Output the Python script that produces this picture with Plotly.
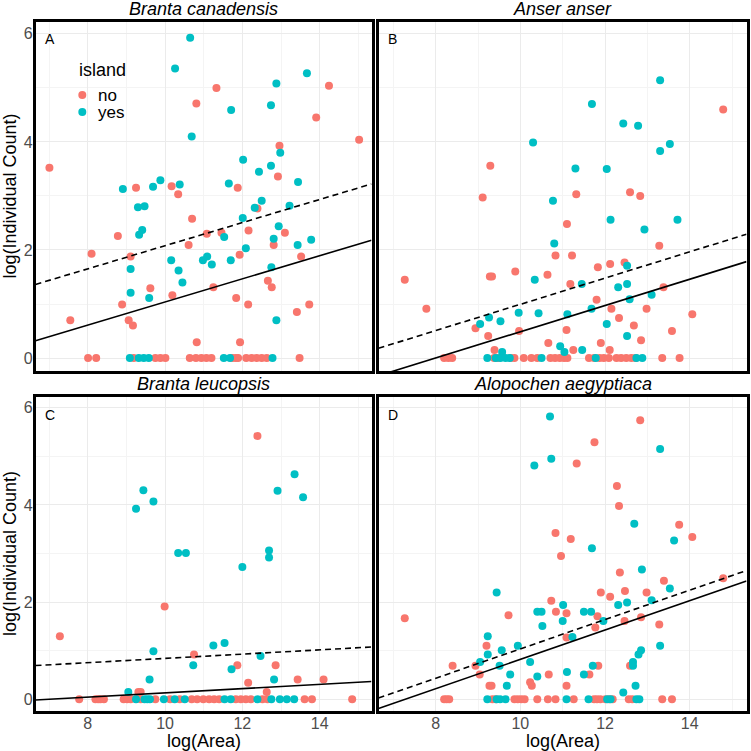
import plotly.graph_objects as go

# ---------------- data ----------------
panels = ["A", "B", "C", "D"]
species = ["Branta canadensis", "Anser anser", "Branta leucopsis", "Alopochen aegyptiaca"]
island_levels = ["no", "yes"]
colors = {"no": "#F8766D", "yes": "#00BFC4"}

A_no_x = [7.01, 7.55, 8.10, 8.01, 8.22, 8.78, 8.89, 9.06, 9.17, 9.11, 9.25, 9.62, 9.19, 9.75, 9.88, 10.01,
          10.17, 10.34, 10.19, 10.61, 10.70, 10.81, 10.82, 11.33, 11.08, 11.25, 11.46, 10.64, 10.80, 10.94,
          11.07, 11.20, 11.88, 11.93, 11.84, 11.94, 12.15, 12.16, 12.39, 11.74, 11.83, 11.89, 12.10, 12.24,
          12.37, 12.50, 12.63, 12.66, 12.76, 12.81, 12.92, 12.96, 13.10, 13.52, 13.41, 13.73, 13.48, 13.91,
          14.24, 15.02]
A_no_y = [3.52, 0.70, 1.93, 0, 0, 2.26, 0.99, 0.70, 0.60, 1.88, 3.15, 1.29, 0, 0, 0, 0,
          3.18, 3.03, 1.16, 2.09, 2.58, 4.71, 0.29, 5.00, 2.30, 1.31, 2.32, 0, 0, 0,
          0, 0, 3.15, 1.91, 1.11, 0.29, 0.99, 2.36, 2.77, 0, 0, 0, 0, 0,
          0, 0, 0, 1.43, 1.31, 2.09, 3.36, 3.93, 2.32, 1.88, 0.85, 0.99, 0, 4.45,
          5.04, 4.04]
A_yes_x = [10.65, 10.26, 10.69, 11.71, 12.74, 12.88, 13.67, 12.98, 12.02, 12.74, 12.43, 11.65, 13.44,
           8.91, 9.30, 9.47, 9.69, 9.88, 10.38, 9.41, 9.33, 9.11, 9.11, 9.59, 10.16, 10.35, 10.45,
           10.98, 11.09, 11.21, 11.53, 11.70, 12.01, 12.09, 12.32, 12.50, 12.81, 12.94, 13.22, 13.43,
           13.78, 12.75, 12.88, 9.09, 9.32, 9.45, 9.58, 11.52, 11.68, 12.78]
A_yes_y = [5.93, 5.36, 4.10, 4.59, 4.68, 5.08, 5.27, 3.80, 3.67, 3.56, 3.45, 3.23, 3.26,
           3.13, 2.79, 2.81, 3.17, 3.29, 3.21, 2.37, 2.28, 1.65, 1.21, 1.11, 1.81, 1.62, 1.40,
           1.81, 1.88, 1.73, 2.24, 1.81, 2.59, 2.03, 2.78, 2.91, 2.21, 2.44, 2.82, 2.09,
           2.19, 1.68, 0.70, 0, 0, 0, 0, 0, 0, 0]

B_no_x = [7.27, 7.78, 8.20, 8.30, 8.39, 9.11, 9.29, 9.28, 9.33, 8.94, 9.24, 9.39, 9.88, 9.97, 10.64,
          10.83, 10.66, 11.10, 11.32, 11.22, 11.18, 11.09, 11.25, 11.83, 12.12, 12.46, 12.59, 12.83,
          13.28, 13.38, 11.80, 12.15, 12.33, 12.68, 12.98, 11.90, 12.11, 12.85, 13.58, 14.06, 14.79,
          9.38, 9.47, 9.77, 9.86, 10.08, 10.26, 10.40, 10.71, 10.82, 10.93, 11.03, 11.11, 11.62, 11.74,
          11.87, 11.97, 12.09, 12.27, 12.38, 12.50, 12.62, 12.72, 13.35, 13.76]
B_no_y = [1.45, 0.91, 0, 0, 0, 2.97, 3.56, 1.51, 1.51, 0.55, 0.41, 0.15, 1.60, 0.50, 1.54,
          1.90, 0.28, 2.48, 3.03, 1.90, 1.37, 0.52, 0.15, 1.68, 1.74, 1.77, 3.07, 3.00,
          2.08, 1.31, 1.08, 0.91, 0.74, 0.60, 0.91, 0.28, 0.15, 0.33, 0.50, 0.81, 4.60,
          0, 0, 0, 0, 0, 0, 0, 0, 0, 0, 0, 0, 0, 0,
          0, 0, 0, 0, 0, 0, 0, 0, 0, 0]
B_yes_x = [13.30, 11.69, 12.43, 12.78, 10.30, 13.30, 13.53, 11.30, 12.04, 10.77, 12.13, 13.71, 12.93,
           10.80, 12.52, 10.34, 11.45, 12.31, 12.52, 12.58, 13.10, 11.68, 11.11, 10.43, 9.96, 9.26,
           9.05, 9.53, 12.04, 12.52, 10.94, 11.04, 11.46, 9.57, 9.22, 9.42, 9.53, 9.65, 9.75, 10.50,
           11.78, 12.74, 12.88]
B_yes_y = [5.14, 4.70, 4.34, 4.30, 3.99, 3.83, 3.96, 3.51, 3.50, 2.91, 2.56, 2.56, 2.38,
           2.12, 1.71, 1.45, 1.37, 1.31, 1.37, 1.09, 1.17, 0.91, 0.81, 0.83, 0.84, 0.75,
           0.63, 0.68, 0.63, 0.41, 0.22, 0.11, 0.15, 0.11, 0, 0, 0, 0, 0, 0,
           0, 0, 0]

C_no_x = [7.28, 9.99, 10.75, 12.39, 11.87, 12.86, 12.15, 12.63, 13.43, 14.10, 9.31, 9.37,
          7.78, 8.20, 8.27, 8.33, 8.42, 8.93, 9.02, 9.11, 9.37, 9.75, 10.13, 10.38, 10.69, 10.83,
          10.99, 11.14, 11.27, 11.40, 11.83, 11.96, 12.09, 12.22, 12.52, 12.65, 13.61, 13.80, 14.84]
C_no_y = [1.30, 1.91, 0.92, 5.42, 0.70, 0.70, 0.34, 0.15, 0.41, 0.41, 0.15, 0.15,
          0, 0, 0, 0, 0, 0, 0, 0, 0, 0, 0, 0, 0, 0,
          0, 0, 0, 0, 0, 0, 0, 0, 0, 0, 0, 0, 0]
C_yes_x = [9.44, 9.25, 9.70, 13.35, 12.91, 13.57, 10.34, 10.54, 12.69, 12.69, 12.00, 9.70, 11.25,
           11.54, 12.47, 10.73, 11.72, 9.60, 12.82, 9.05,
           9.25, 9.47, 9.54, 9.61, 9.97, 10.25, 10.51, 11.54, 11.70, 12.39, 12.75, 12.97, 13.15, 13.34]
C_yes_y = [4.30, 3.92, 4.07, 4.63, 4.29, 4.16, 3.01, 3.01, 3.06, 2.92, 2.72, 0.99, 1.11,
           1.16, 0.89, 0.70, 0.62, 0.41, 0.41, 0.15,
           0, 0, 0, 0, 0, 0, 0, 0, 0, 0, 0, 0, 0, 0]

D_no_x = [7.27, 8.40, 8.94, 9.04, 9.20, 9.27, 9.32, 9.72, 10.23, 10.27, 10.67, 10.73, 10.83, 10.84,
          10.96, 11.09, 11.09, 11.09, 11.19, 11.33, 11.63, 11.75, 11.77, 11.82, 11.84, 11.90, 12.12,
          12.28, 12.33, 12.35, 12.46, 12.47, 12.59, 12.83, 12.85, 12.98, 13.28, 13.39, 13.75, 14.06,
          14.79,
          8.20, 8.26, 8.32, 9.34, 9.42, 9.86, 9.94, 10.02, 10.10, 10.40, 10.65, 10.83, 11.26, 11.74,
          11.81, 11.89, 12.01, 12.10, 12.18, 12.56, 12.64, 13.35, 13.58]
D_no_y = [1.67, 0.69, 0.69, 0.51, 1.10, 0.28, 0.28, 1.73, 0.35, 0.28, 0.51, 2.03, 3.42, 1.80,
          2.95, 1.77, 1.27, 0.28, 3.30, 4.85, 0.51, 5.29, 1.48, 1.71, 0.69, 2.20, 2.11,
          4.39, 3.98, 2.61, 1.61, 2.23, 0.69, 5.74, 1.69, 2.20, 1.54, 2.44, 3.59, 3.34,
          2.49,
          0, 0, 0, 0, 0, 0, 0, 0, 0, 0, 0, 0, 0, 0,
          0, 0, 0, 0, 0, 0, 0, 0, 0]
D_yes_x = [10.70, 10.73, 10.33, 13.30, 12.69, 13.63, 11.69, 12.87, 13.53, 13.10, 9.44, 11.01, 12.31,
           12.52, 10.40, 10.50, 11.50, 11.67, 10.52, 11.00, 11.96, 11.23, 9.23, 9.23, 9.05, 9.56,
           9.94, 10.23, 9.51, 9.76, 10.40, 9.68, 11.10, 11.50, 11.71, 13.30, 12.85, 12.79, 12.66,
           12.66, 12.72, 12.43,
           9.22, 9.44, 9.52, 9.65, 11.09, 11.61, 12.05, 12.13, 12.74, 12.81]
D_yes_y = [5.82, 4.95, 4.81, 5.15, 3.61, 3.27, 3.11, 2.67, 2.28, 2.04, 2.20, 1.94, 1.94,
           1.99, 1.80, 1.80, 1.80, 1.80, 1.51, 1.61, 1.61, 1.28, 1.30, 0.92, 0.77, 1.01,
           1.10, 0.77, 0.69, 0.51, 0.47, 0.28, 0.56, 0.51, 0.69, 1.10, 1.01, 0.92, 0.77,
           0.69, 0.28, 0.14,
           0, 0, 0, 0, 0, 0, 0, 0, 0, 0]

# fitted lines (slope shared within a panel; solid and dashed intercepts)
fit_slope = [0.214, 0.243, 0.044, 0.302]
fit_int_solid = [-1.102, -1.943, -0.307, -2.199]
fit_int_dashed = [-0.061, -1.436, 0.402, -1.982]

x_ticks = [8, 10, 12, 14]
y_ticks = [0, 2, 4, 6]
x_range = [6.65, 15.34]
y_range = [-0.24, 6.22]

points = {
    "A": {"no": (A_no_x, A_no_y), "yes": (A_yes_x, A_yes_y)},
    "B": {"no": (B_no_x, B_no_y), "yes": (B_yes_x, B_yes_y)},
    "C": {"no": (C_no_x, C_no_y), "yes": (C_yes_x, C_yes_y)},
    "D": {"no": (D_no_x, D_no_y), "yes": (D_yes_x, D_yes_y)},
}

# ---------------- layout geometry (pixels) ----------------
W = H = 751
FONT = "Liberation Sans, Arial, sans-serif"
px = lambda p: p / W
py = lambda p: 1 - p / H

col_x = [(35.5, 371.5), (378.5, 746.5)]
row_y = [(22, 371), (397, 711)]

fig = go.Figure()
layout_axes = {}
annotations = []

for i, pan in enumerate(panels):
    r, c = divmod(i, 2)
    sfx = "" if i == 0 else str(i + 1)
    xa, ya = "x" + sfx, "y" + sfx
    x0, x1 = col_x[c]
    y0, y1 = row_y[r]
    common = dict(showline=True, linecolor="black", linewidth=2.5, mirror=True,
                  zeroline=False, ticks="", showgrid=True, gridcolor="#EBEBEB", gridwidth=1,
                  tickfont=dict(family=FONT, size=16, color="#4D4D4D"))
    layout_axes["xaxis" + sfx] = dict(common, domain=[px(x0), px(x1)], range=x_range,
                                      tickvals=x_ticks, showticklabels=(r == 1), anchor=ya,
                                      ticklabelstandoff=-4,
                                      minor=dict(tickvals=[7, 9, 11, 13, 15], showgrid=True,
                                                 gridcolor="#F4F4F4", gridwidth=0.6))
    layout_axes["yaxis" + sfx] = dict(common, domain=[py(y1), py(y0)], range=y_range,
                                      tickvals=y_ticks, showticklabels=(c == 0), anchor=xa,
                                      ticklabelstandoff=-3,
                                      minor=dict(tickvals=[1, 3, 5], showgrid=True,
                                                 gridcolor="#F4F4F4", gridwidth=0.6))
    for lvl in island_levels:
        xs, ys = points[pan][lvl]
        fig.add_trace(go.Scatter(x=xs, y=ys, mode="markers", xaxis=xa, yaxis=ya,
                                 marker=dict(color=colors[lvl], size=8, line=dict(width=0)),
                                 name=lvl, showlegend=False))
    lx = x_range
    for ints, dash in ((fit_int_solid, "solid"), (fit_int_dashed, "6px,4px")):
        fig.add_trace(go.Scatter(x=lx, y=[ints[i] + fit_slope[i] * v for v in lx], mode="lines",
                                 xaxis=xa, yaxis=ya, line=dict(color="black", width=1.6, dash=dash),
                                 showlegend=False, hoverinfo="skip"))
    # species title
    annotations.append(dict(text="<i>%s</i>" % species[i], x=px((x0 + x1) / 2), y=py(y0 - 13),
                            xref="paper", yref="paper", showarrow=False, xanchor="center",
                            yanchor="middle", font=dict(family=FONT, size=18, color="black")))
    # panel letter
    annotations.append(dict(text=pan, x=px(x0 + 14), y=py(y0 + 17.5), xref="paper", yref="paper",
                            showarrow=False, xanchor="center", yanchor="middle",
                            font=dict(family=FONT, size=14, color="black")))
    if c == 0:
        annotations.append(dict(text="log(Individual Count)", x=px(10), y=py((y0 + y1) / 2),
                                xref="paper", yref="paper", showarrow=False, textangle=-90,
                                xanchor="center", yanchor="middle",
                                font=dict(family=FONT, size=18, color="black")))
    if r == 1:
        annotations.append(dict(text="log(Area)", x=px((x0 + x1) / 2), y=py(741),
                                xref="paper", yref="paper", showarrow=False,
                                xanchor="center", yanchor="middle",
                                font=dict(family=FONT, size=18, color="black")))

# legend (drawn inside panel A)
annotations.append(dict(text="island", x=px(77), y=py(70), xref="paper", yref="paper",
                        showarrow=False, xanchor="left", yanchor="middle",
                        font=dict(family=FONT, size=18, color="black")))
shapes = []
for k, lvl in enumerate(island_levels):
    cy = 95 + 17 * k
    shapes.append(dict(type="circle", xref="paper", yref="paper", x0=px(78.3), x1=px(86.3),
                       y0=py(cy + 4), y1=py(cy - 4), fillcolor=colors[lvl], line=dict(width=0)))
    annotations.append(dict(text=lvl, x=px(96), y=py(cy + 1), xref="paper", yref="paper",
                            showarrow=False, xanchor="left", yanchor="middle",
                            font=dict(family=FONT, size=17, color="black")))

fig.update_layout(width=W, height=H, margin=dict(l=0, r=0, t=0, b=0),
                  paper_bgcolor="white", plot_bgcolor="white", showlegend=False,
                  font=dict(family=FONT), annotations=annotations, shapes=shapes,
                  **layout_axes)

fig.write_html("out.html", config={"displayModeBar": False},
               post_script="document.body.style.margin='0px';document.body.style.overflow='hidden';")
